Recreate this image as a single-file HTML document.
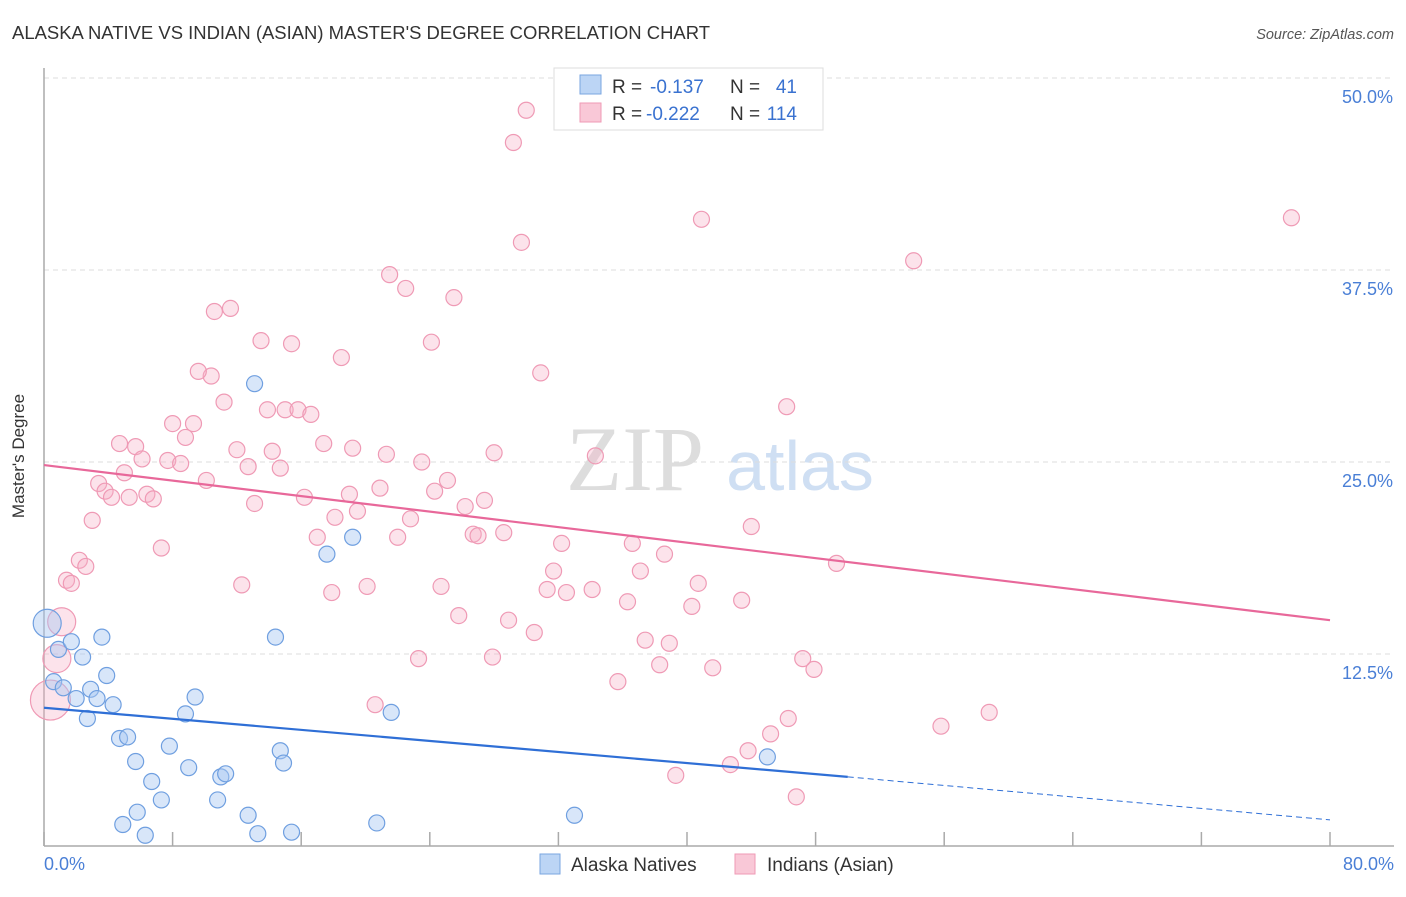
<!DOCTYPE html>
<html><head><meta charset="utf-8"><style>
body{margin:0;background:#fff;font-family:"Liberation Sans",sans-serif;}
svg text{font-family:"Liberation Sans",sans-serif;}
</style></head><body>
<svg id="chart" width="1406" height="892" xmlns="http://www.w3.org/2000/svg">
<text x="12" y="39" font-size="18.5" fill="#333" textLength="698" lengthAdjust="spacingAndGlyphs">ALASKA NATIVE VS INDIAN (ASIAN) MASTER'S DEGREE CORRELATION CHART</text>
<text x="1394" y="39" font-size="14.5" fill="#555" text-anchor="end" font-style="italic">Source: ZipAtlas.com</text>
<g>
<text x="635" y="490" font-size="92" fill="#ddd" text-anchor="middle" style="font-family:'Liberation Serif',serif">ZIP</text>
<text x="800" y="490" font-size="70" fill="#cfdff3" text-anchor="middle">atlas</text>
</g>
<g id="grid"></g>
<line x1="44" y1="68" x2="44" y2="846" stroke="#aaa" stroke-width="1.5"/>
<line x1="44" y1="846" x2="1394" y2="846" stroke="#aaa" stroke-width="1.5"/>
<g id="ticks"></g>
<text x="24" y="456" font-size="17" fill="#333" text-anchor="middle" transform="rotate(-90 24 456)">Master's Degree</text>
<text x="44" y="870" font-size="18" fill="#4a7fd6">0.0%</text>
<text x="1394" y="870" font-size="18" fill="#4a7fd6" text-anchor="end">80.0%</text>
<g id="points"></g>
<g id="lines"></g>
<g>
<rect x="554" y="68" width="269" height="62" fill="#fff" stroke="#ddd"/>
<rect x="580" y="75" width="21" height="19" fill="#bcd5f5" stroke="#7aa6e0"/>
<rect x="580" y="103" width="21" height="19" fill="#f9c8d7" stroke="#ef9ab5"/>
<text x="612" y="93" font-size="19" fill="#333">R = </text><text x="650" y="93" font-size="19" fill="#3a72d0">-0.137</text>
<text x="730" y="93" font-size="19" fill="#333">N = </text><text x="797" y="93" font-size="19" fill="#3a72d0" text-anchor="end">41</text>
<text x="612" y="120" font-size="19" fill="#333">R = </text><text x="646" y="120" font-size="19" fill="#3a72d0">-0.222</text>
<text x="730" y="120" font-size="19" fill="#333">N = </text><text x="797" y="120" font-size="19" fill="#3a72d0" text-anchor="end">114</text>
</g>
<g>
<rect x="540" y="854" width="20" height="20" fill="#bcd5f5" stroke="#7aa6e0"/>
<text x="571" y="871" font-size="19" fill="#333">Alaska Natives</text>
<rect x="735" y="854" width="20" height="20" fill="#f9c8d7" stroke="#ef9ab5"/>
<text x="767" y="871" font-size="19" fill="#333">Indians (Asian)</text>
</g>
</svg>
<script>
const yTicks=[12.5,25,37.5,50];
const xTickVals=[0,8,16,24,32,40,48,56,64,72,80];
const blueX=[0.2,0.9,1.7,2.4,3.6,0.6,1.2,2.0,2.9,3.3,3.9,4.3,2.7,4.7,5.2,5.7,6.7,7.8,7.3,5.8,4.9,6.3,8.8,9.4,9.0,10.8,11.0,11.3,12.7,13.3,13.1,14.4,14.7,14.9,15.4,17.6,19.2,20.7,21.6,33.0,45.0];
const blueY=[14.5,12.8,13.3,12.3,13.6,10.7,10.3,9.6,10.2,9.6,11.1,9.2,8.3,7.0,7.1,5.5,4.2,6.5,3.0,2.2,1.4,0.7,8.6,9.7,5.1,3.0,4.5,4.7,2.0,0.8,30.1,13.6,6.2,5.4,0.9,19.0,20.1,1.5,8.7,2.0,5.8];
const blueBig=[0];
const pinkX=[30.0,29.2,40.9,77.6,29.7,54.1,21.5,22.5,25.5,10.6,11.6,13.5,15.4,24.1,18.5,30.9,10.4,9.6,11.2,13.9,15.0,15.8,16.6,46.2,8.0,9.3,8.8,4.7,5.7,12.0,14.2,17.4,19.2,21.3,23.5,28.0,34.3,6.1,7.7,8.5,12.7,14.7,5.0,10.1,3.4,3.8,25.1,20.9,24.3,4.2,5.3,6.4,6.8,13.1,16.2,19.0,27.4,26.2,19.5,18.1,22.8,3.0,44.0,26.7,27.0,28.6,17.0,22.0,32.2,36.6,7.3,2.2,2.6,38.6,1.4,1.7,31.7,37.1,49.3,12.3,20.1,24.7,40.7,17.9,31.3,32.5,34.1,36.3,43.4,40.3,25.8,28.9,30.5,1.1,37.4,38.9,23.3,27.9,38.3,41.6,47.2,47.9,35.7,0.4,20.6,46.3,58.8,55.8,45.2,43.8,42.7,39.3,46.8,0.8];
const pinkY=[47.9,45.8,40.8,40.9,39.3,38.1,37.2,36.3,35.7,34.8,35.0,32.9,32.7,32.8,31.8,30.8,30.6,30.9,28.9,28.4,28.4,28.4,28.1,28.6,27.5,27.5,26.6,26.2,26.0,25.8,25.7,26.2,25.9,25.5,25.0,25.6,25.4,25.2,25.1,24.9,24.7,24.6,24.3,23.8,23.6,23.1,23.8,23.3,23.1,22.7,22.7,22.9,22.6,22.3,22.7,22.9,22.5,22.1,21.8,21.4,21.3,21.2,20.8,20.3,20.2,20.4,20.1,20.1,19.7,19.7,19.4,18.6,18.2,19.0,17.3,17.1,17.9,17.9,18.4,17.0,16.9,16.9,17.1,16.5,16.7,16.5,16.7,15.9,16.0,15.6,15.0,14.7,13.9,14.6,13.4,13.2,12.2,12.3,11.8,11.6,12.2,11.5,10.7,9.5,9.2,8.3,8.7,7.8,7.3,6.2,5.3,4.6,3.2,12.2];
const pinkBig=[93,103,113];
const blueTrend=[9.0,4.5,1.7];
const pinkTrend=[24.8,14.7];
const X0=44,X1=1330,Y0=846,Y50=78;
const sx=v=>X0+(X1-X0)*v/80, sy=v=>Y0-(Y0-Y50)*v/50;
const NS="http://www.w3.org/2000/svg";
function mk(t,a,p){const e=document.createElementNS(NS,t);for(const k in a)e.setAttribute(k,a[k]);p.appendChild(e);return e;}
const grid=document.getElementById('grid');
yTicks.forEach(t=>{
 const l=mk('line',{x1:44,x2:1394,y1:sy(t),y2:sy(t),stroke:'#ddd','stroke-dasharray':'5,4'},grid);
 
 
 const tx=mk('text',{x:1393,y:sy(t)+25,'font-size':18,fill:'#4a7fd6','text-anchor':'end'},grid);
 tx.textContent=t.toFixed(1)+'%';
 
 
});
const ticks=document.getElementById('ticks');
xTickVals.forEach(t=>{
 const l=mk('line',{x1:sx(t),x2:sx(t),y1:832,y2:846,stroke:'#aaa','stroke-width':1.5},ticks);
 
 
});
const pts=document.getElementById('points');
pinkX.forEach((x,i)=>{
 const c=mk('circle',{cx:sx(x),cy:sy(pinkY[i]),r:pinkBig.includes(i)?(i==103?20:14):8,fill:'rgba(246,175,198,0.35)',stroke:'#ef9ab5','stroke-width':1.2},pts);
 
 
});
blueX.forEach((x,i)=>{
 const c=mk('circle',{cx:sx(x),cy:sy(blueY[i]),r:blueBig.includes(i)?14:8,fill:'rgba(168,200,242,0.45)',stroke:'#6f9fe0','stroke-width':1.2},pts);
 
 
});
const ln=document.getElementById('lines');
let a=mk('line',{x1:sx(0),y1:sy(pinkTrend[0]),x2:sx(80),y2:sy(pinkTrend[1]),stroke:'#e8689a','stroke-width':2.2},ln);


let b=mk('line',{x1:sx(0),y1:sy(blueTrend[0]),x2:sx(50),y2:sy(blueTrend[1]),stroke:'#2f6fd6','stroke-width':2.2},ln);


let c=mk('line',{x1:sx(50),y1:sy(blueTrend[1]),x2:sx(80),y2:sy(blueTrend[2]),stroke:'#2f6fd6','stroke-width':1,'stroke-dasharray':'6,4'},ln);


</script>
</body></html>
